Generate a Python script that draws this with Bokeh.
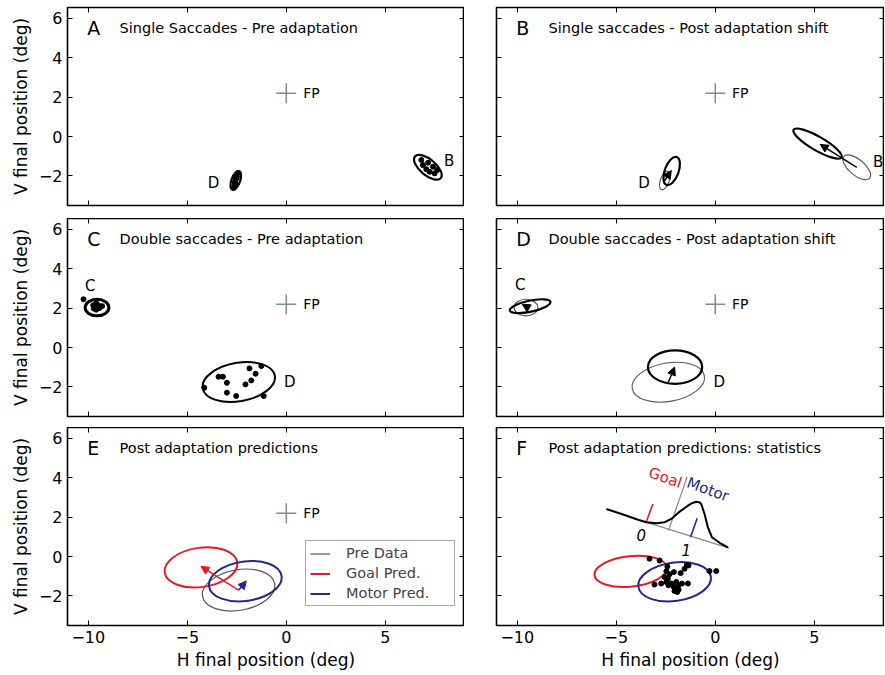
import numpy as np
from bokeh.plotting import figure
from bokeh.layouts import column, row
from bokeh.models import (Range1d, LinearAxis, FixedTicker, Arrow, NormalHead,
                          Legend, LegendItem, ColumnDataSource)
from bokeh.core.properties import value
from bokeh.embed import file_html
from bokeh.resources import INLINE

FONT = "DejaVu Sans"
RED = "#e8191f"
BLUE = "#24288a"
GRAY = "#555555"
FPC = "#7b8a9c"

# ---------------- axes ----------------
x_ticks = [-10, -5, 0, 5]
x_tick_labels = ["\u221210", "\u22125", "0", "5"]
y_ticks = [-2, 0, 2, 4, 6]
y_tick_labels = ["\u22122", "0", "2", "4", "6"]

panel_letters = ["A", "B", "C", "D", "E", "F"]
panel_titles = ["Single Saccades - Pre adaptation",
                "Single saccades - Post adaptation shift",
                "Double saccades - Pre adaptation",
                "Double saccades - Post adaptation shift",
                "Post adaptation predictions",
                "Post adaptation predictions: statistics"]

fp_x = [0.0]
fp_y = [2.2]

# ---------------- Panel A ----------------
A_ell_x = [-2.55, 7.15]
A_ell_y = [-2.23, -1.56]
A_ell_w = [1.0, 1.7]
A_ell_h = [0.44, 0.8]
A_ell_ang = [70, -40]
A_dots_x = [-2.45, -2.5, -2.55, -2.6, -2.6, -2.65, -2.5, -2.55,
            6.82, 6.9, 7.16, 7.41, 7.24, 7.49, 7.07, 7.63]
A_dots_y = [-1.85, -2.0, -2.15, -2.3, -2.45, -2.6, -2.1, -2.4,
            -1.19, -1.45, -1.33, -1.53, -1.79, -1.87, -1.66, -1.7]
A_lab_x = [-3.67, 8.22]
A_lab_y = [-2.38, -1.23]
A_lab = ["D", "B"]

# ---------------- Panel B ----------------
B_pre_x = [-2.55, 7.15]
B_pre_y = [-2.23, -1.56]
B_pre_w = [1.0, 1.7]
B_pre_h = [0.44, 0.8]
B_pre_ang = [70, -40]
B_post_x = [-2.2, 5.17]
B_post_y = [-1.75, -0.36]
B_post_w = [1.5, 2.8]
B_post_h = [0.7, 0.7]
B_post_ang = [70, -30]
B_arr_x0 = [-2.55, 7.15]
B_arr_y0 = [-2.23, -1.56]
B_arr_x1 = [-2.22, 5.3]
B_arr_y1 = [-1.72, -0.4]
B_lab_x = [-3.6, 8.23]
B_lab_y = [-2.36, -1.3]
B_lab = ["D", "B"]

# ---------------- Panel C ----------------
C_ell_x = [-9.56, -2.4]
C_ell_y = [2.03, -1.75]
C_ell_w = [1.2, 3.7]
C_ell_h = [0.84, 1.95]
C_ell_ang = [0, 10]
C_dots_x = [-10.24, -9.75, -9.6, -9.45, -9.3, -9.6, -9.72, -9.5,
            -4.14, -3.42, -3.2, -3.0, -3.0, -2.53, -2.06, -1.77, -1.86, -1.55, -1.26, -1.14]
C_dots_y = [2.45, 2.15, 2.25, 2.0, 2.1, 1.92, 1.98, 2.15,
            -2.04, -1.48, -1.48, -1.79, -2.29, -2.46, -1.87, -1.67, -1.06, -1.33, -0.94, -2.46]
C_lab_x = [-9.9, 0.18]
C_lab_y = [3.12, -1.75]
C_lab = ["C", "D"]

# ---------------- Panel D ----------------
D_pre_x = [-9.56, -2.37]
D_pre_y = [2.03, -1.76]
D_pre_w = [1.2, 3.7]
D_pre_h = [0.84, 1.95]
D_pre_ang = [0, 10]
D_post_x = [-9.35, -2.03]
D_post_y = [2.1, -0.99]
D_post_w = [2.1, 2.74]
D_post_h = [0.56, 1.7]
D_post_ang = [12, 0]
D_arr_x0 = [-9.5, -2.37]
D_arr_y0 = [2.05, -1.76]
D_arr_x1 = [-9.75, -2.05]
D_arr_y1 = [2.2, -0.99]
D_lab_x = [-9.85, 0.2]
D_lab_y = [3.17, -1.75]
D_lab = ["C", "D"]

# ---------------- Panel E ----------------
E_ell_x = [-2.41, -4.31, -2.07]
E_ell_y = [-1.70, -0.55, -1.25]
E_ell_w = [3.7, 3.7, 3.7]
E_ell_h = [2.06, 2.0, 2.0]
E_ell_ang = [10, 8, 8]
E_ell_col = [GRAY, RED, BLUE]
E_ell_lw = [1.2, 2, 2]
E_arr_x0 = [-2.41, -2.41]
E_arr_y0 = [-1.71, -1.71]
E_arr_x1 = [-4.31, -2.02]
E_arr_y1 = [-0.5, -1.24]
E_arr_col = [RED, BLUE]
legend_labels = ["Pre Data", "Goal Pred.", "Motor Pred."]

# ---------------- Panel F ----------------
F_ell_x = [-4.27, -2.05]
F_ell_y = [-0.75, -1.28]
F_ell_w = [3.68, 3.7]
F_ell_h = [1.55, 1.95]
F_ell_ang = [6, 8]
F_ell_col = [RED, BLUE]
F_dots_x = [-3.32, -2.81, -2.42, -2.47, -2.09, -1.75, -1.55, -1.35, -0.29, 0.05,
            -2.56, -2.39, -2.47, -2.22, -1.97, -1.85, -2.09, -1.85, -1.68, -1.38,
            -3.07, -2.73, -2.36, -2.06, -1.92, -2.31, -1.43, -1.97]
F_dots_y = [-0.11, -0.2, -0.5, -0.74, -0.79, -0.84, -0.62, -0.45, -0.74, -0.74,
            -1.04, -1.12, -1.29, -1.37, -1.29, -1.46, -1.55, -1.68, -1.37, -1.37,
            -1.42, -1.37, -1.46, -1.75, -1.8, -0.9, -0.42, -1.71]
F_curve_x = [-5.5, -4.58, -3.9, -3.48, -2.98, -2.56, -2.22, -1.85, -1.38, -1.15,
             -0.96, -0.8, -0.71, -0.54, -0.37, -0.17, 0.22, 0.64]
F_curve_y = [2.41, 2.11, 1.87, 1.74, 1.69, 1.74, 1.91, 2.24, 2.58, 2.72,
             2.78, 2.76, 2.67, 2.16, 1.48, 0.98, 0.70, 0.47]
F_base_x = [-3.5, 0.7]
F_base_y = [1.75, 0.43]
F_obs_x = [-2.36, -1.42]
F_obs_y = [1.32, 4.05]
F_goal_tick_x = [-3.48, -3.15]
F_goal_tick_y = [1.77, 2.67]
F_motor_tick_x = [-1.25, -0.91]
F_motor_tick_y = [0.98, 1.94]
F_num_x = [-3.74, -1.46]
F_num_y = [1.1, 0.31]
F_num = ["0", "1"]
F_word_x = [-2.52, -0.37]
F_word_y = [4.0, 3.4]
F_word = ["Goal", "Motor"]
F_word_col = [RED, BLUE]

TICK_FS = "16px"
AXLAB_FS = "17px"


def style_axis(ax, ticks, labels, show):
    ax.ticker = FixedTicker(ticks=ticks)
    ax.major_tick_in = 5
    ax.major_tick_out = 0
    ax.minor_tick_in = 0
    ax.minor_tick_out = 0
    ax.axis_line_color = None
    ax.major_tick_line_color = "black"
    ax.major_tick_line_width = 1
    if show:
        ax.major_label_overrides = dict(zip(ticks, labels))
        ax.major_label_text_font = FONT
        ax.major_label_text_font_size = TICK_FS
        ax.major_label_text_color = "black"
        ax.major_label_standoff = 5
    else:
        ax.major_label_text_font_size = "0px"
        ax.major_label_text_color = None
        ax.major_label_standoff = 0


def add_text(p, xs, ys, texts, size, align="left", baseline="middle",
             color="black", angle=0.0, style="normal"):
    p.text(x=xs, y=ys, text=texts, text_font=value(FONT), text_font_size=size,
           text_align=align, text_baseline=baseline, text_color=color,
           angle=angle, text_font_style=style)


def make_fig(col, rowi):
    left = col == 0
    fw = 397 if left else 388
    xr = Range1d(-11.05, 9.0) if left else Range1d(-11.05, 8.55)
    p = figure(x_range=xr, y_range=Range1d(-3.5, 6.55),
               frame_width=fw, frame_height=198,
               output_backend="svg", toolbar_location=None,
               min_border_left=67 if left else 32, min_border_right=0,
               min_border_top=7 if rowi == 0 else 0,
               min_border_bottom=[13, 11, 47][rowi])
    p.grid.visible = False
    p.outline_line_color = "black"
    p.outline_line_width = 1.6
    p.outline_line_alpha = 1.0
    p.background_fill_color = "white"
    p.border_fill_color = "white"
    xa = p.below[0]
    ya = p.left[0]
    style_axis(xa, x_ticks, x_tick_labels, rowi == 2)
    style_axis(ya, y_ticks, y_tick_labels, left)
    if rowi == 2:
        xa.axis_label = "H final position (deg)"
        xa.axis_label_standoff = 4
    if left:
        ya.axis_label = "V final position (deg)"
        ya.axis_label_standoff = 5
    for ax in (xa, ya):
        ax.axis_label_text_font = FONT
        ax.axis_label_text_font_size = AXLAB_FS
        ax.axis_label_text_font_style = "normal"
        ax.axis_label_text_color = "black"
    top = LinearAxis()
    style_axis(top, x_ticks, x_tick_labels, False)
    p.add_layout(top, "above")
    rt = LinearAxis()
    style_axis(rt, y_ticks, y_tick_labels, False)
    p.add_layout(rt, "right")

    idx = rowi * 2 + col
    add_text(p, [-10.05], [5.5], [panel_letters[idx]], "19px")
    add_text(p, [-8.42], [5.5], [panel_titles[idx]], "14.5px")
    if idx != 5:
        p.scatter(x=fp_x, y=fp_y, marker="cross", size=20, line_color=FPC, line_width=1.5)
        add_text(p, [0.85], [2.2], ["FP"], "14px")
    return p


def ellipses(p, xs, ys, ws, hs, angs, color, lw):
    src = ColumnDataSource(dict(x=xs, y=ys, w=ws, h=hs,
                                a=[np.deg2rad(a) for a in angs],
                                c=color if isinstance(color, list) else [color] * len(xs),
                                lw=lw if isinstance(lw, list) else [lw] * len(xs)))
    return p.ellipse(x="x", y="y", width="w", height="h", angle="a", source=src,
                     fill_color=None, line_color="c", line_width="lw")


def arrows(p, x0, y0, x1, y1, color, lw=1.5):
    for i in range(len(x0)):
        c = color[i] if isinstance(color, list) else color
        p.add_layout(Arrow(end=NormalHead(size=8, fill_color=c, line_color=c, line_width=1),
                           x_start=x0[i], y_start=y0[i], x_end=x1[i], y_end=y1[i],
                           line_color=c, line_width=lw))


# ---- A ----
pA = make_fig(0, 0)
ellipses(pA, A_ell_x, A_ell_y, A_ell_w, A_ell_h, A_ell_ang, "black", 2.2)
pA.scatter(x=A_dots_x, y=A_dots_y, size=5, color="black")
add_text(pA, A_lab_x, A_lab_y, A_lab, "15px", align="center")

# ---- B ----
pB = make_fig(1, 0)
ellipses(pB, B_pre_x, B_pre_y, B_pre_w, B_pre_h, B_pre_ang, GRAY, 1.1)
ellipses(pB, B_post_x, B_post_y, B_post_w, B_post_h, B_post_ang, "black", 2.2)
arrows(pB, B_arr_x0, B_arr_y0, B_arr_x1, B_arr_y1, "black")
add_text(pB, B_lab_x, B_lab_y, B_lab, "15px", align="center")

# ---- C ----
pC = make_fig(0, 1)
ellipses(pC, C_ell_x, C_ell_y, C_ell_w, C_ell_h, C_ell_ang, "black", [3, 2])
pC.scatter(x=C_dots_x, y=C_dots_y, size=5, color="black")
add_text(pC, C_lab_x, C_lab_y, C_lab, "15px", align="center")

# ---- D ----
pD = make_fig(1, 1)
ellipses(pD, D_pre_x, D_pre_y, D_pre_w, D_pre_h, D_pre_ang, GRAY, 1.1)
ellipses(pD, D_post_x, D_post_y, D_post_w, D_post_h, D_post_ang, "black", 2.2)
arrows(pD, D_arr_x0, D_arr_y0, D_arr_x1, D_arr_y1, "black")
add_text(pD, D_lab_x, D_lab_y, D_lab, "15px", align="center")

# ---- E ----
pE = make_fig(0, 2)
ellipses(pE, E_ell_x, E_ell_y, E_ell_w, E_ell_h, E_ell_ang, E_ell_col, E_ell_lw)
arrows(pE, E_arr_x0, E_arr_y0, E_arr_x1, E_arr_y1, E_arr_col)
leg_r = [pE.line(x=[float("nan")], y=[float("nan")], line_color=c, line_width=w)
         for c, w in zip(E_ell_col, E_ell_lw)]
legend = Legend(items=[LegendItem(label=l, renderers=[r], index=0)
                       for l, r in zip(legend_labels, leg_r)],
                location=(238, 19), margin=0, padding=4, spacing=4,
                glyph_width=20, glyph_height=15, label_height=15, label_standoff=16,
                label_width=104,
                label_text_font=FONT, label_text_font_size="14.5px",
                border_line_color=GRAY, border_line_width=1,
                background_fill_color="white", background_fill_alpha=1.0)
pE.add_layout(legend)

# ---- F ----
pF = make_fig(1, 2)
ellipses(pF, F_ell_x, F_ell_y, F_ell_w, F_ell_h, F_ell_ang, F_ell_col, 2)
pF.scatter(x=F_dots_x, y=F_dots_y, size=5, color="black")
pF.line(x=F_base_x, y=F_base_y, line_color="#888888", line_width=1.2)
pF.line(x=F_obs_x, y=F_obs_y, line_color="#888888", line_width=1.2)
pF.line(x=F_goal_tick_x, y=F_goal_tick_y, line_color=RED, line_width=1.6)
pF.line(x=F_motor_tick_x, y=F_motor_tick_y, line_color=BLUE, line_width=1.6)
pF.line(x=F_curve_x, y=F_curve_y, line_color="black", line_width=2)
add_text(pF, F_num_x, F_num_y, F_num, "15px", align="center", style="italic")
for i in range(2):
    add_text(pF, [F_word_x[i]], [F_word_y[i]], [F_word[i]], "15px", align="center",
             color=F_word_col[i], angle=-0.35)

layout = column(row(pA, pB), row(pC, pD), row(pE, pF))
open("out.html", "w").write(file_html(layout, INLINE))
